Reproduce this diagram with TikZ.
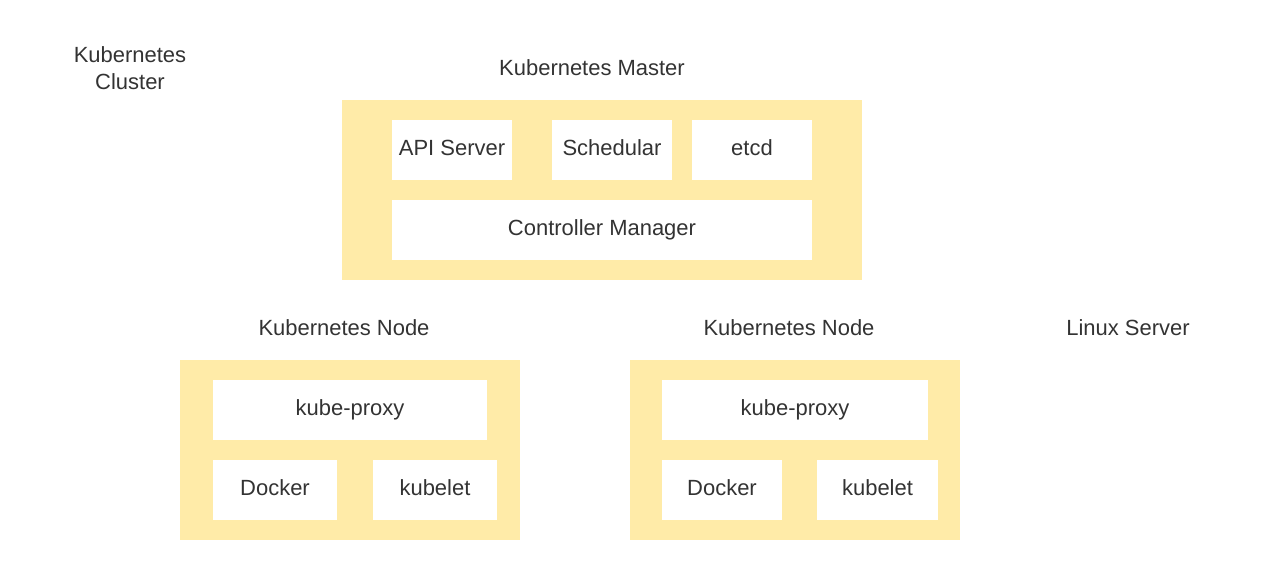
\documentclass[tikz,border=0pt]{standalone}
\usepackage{fontspec}
\setmainfont{Liberation Sans}
\usepackage{xcolor}
\usetikzlibrary{positioning}
\definecolor{boxyellow}{HTML}{FFEBA8}
\definecolor{txtgray}{HTML}{333333}
\tikzstyle{group}=[rectangle,fill=boxyellow,draw=none,inner sep=0pt,minimum height=3.6cm]
\tikzstyle{part}=[rectangle,fill=white,draw=none,inner sep=0pt,minimum height=1.2cm,text=txtgray,text height=9.2pt,text depth=2.7pt]
\tikzstyle{title} = [text=txtgray,align=center]
\tikzset{every node/.style={font=\fontsize{12.5pt}{15.3pt}\selectfont}}

\begin{document}
\begin{tikzpicture}
    \useasboundingbox (0,0) rectangle (25.52,11.6);
    % First the yellow groups
    \foreach \pos/\name/\boxw in {{(12.04,7.8)/master/10.4cm}, 
    {(7.0,2.6)/nodeA/6.8cm}, {(15.9,2.6)/nodeB/6.6cm}}
        \node[group,minimum width=\boxw] (\name) at \pos {};

    % Then the parts inside them
    \foreach \pos/\name/\boxw/\label in {{(9.04,8.6)/api/2.4cm/API Server},
    {(12.24,8.6)/sched/2.4cm/Schedular}, {(15.04,8.6)/etcd/2.4cm/etcd},
    {(12.04,7.0)/ctrl/8.4cm/Controller Manager},
    {(7.0,3.4)/proxyA/5.48cm/kube-proxy}, {(5.5,1.8)/dockerA/2.48cm/Docker},
    {(8.7,1.8)/kubeletA/2.48cm/kubelet},
    {(15.9,3.4)/proxyB/5.32cm/kube-proxy}, {(14.44,1.8)/dockerB/2.4cm/Docker},
    {(17.55,1.8)/kubeletB/2.42cm/kubelet}}
        \node[part,minimum width=\boxw] (\name) at \pos {\label};

    % Titles
    \foreach \pos/\name/\label in {{(2.6,10.24)/cluster/Kubernetes\\Cluster},
    {(11.84,10.24)/mastertitle/Kubernetes Master},
    {(6.88,5.04)/nodeAtitle/Kubernetes Node}, {(15.78,5.04)/nodeBtitle/Kubernetes Node},
    {(22.56,5.04)/linux/Linux Server}}
        \node[title] (\name) at \pos {\label};
\end{tikzpicture}
\end{document}
